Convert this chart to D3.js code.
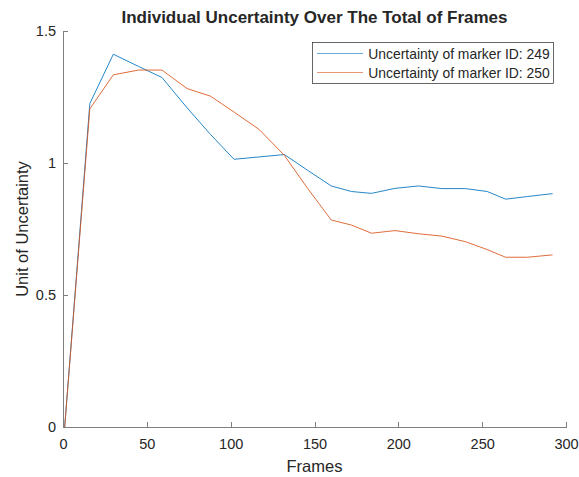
<!DOCTYPE html>
<html>
<head>
<meta charset="utf-8">
<script src="https://cdn.jsdelivr.net/npm/d3@7/dist/d3.min.js"></script>
<style>
  body { margin: 0; background: #fff; }
  text { font-family: "Liberation Sans", Arial, sans-serif; fill: #262626; }
</style>
</head>
<body>
<div id="chart"></div>
<script>
// Data
var frames = [1, 16, 30, 45, 59, 74, 88, 102, 117, 132, 146, 160, 172, 184, 198, 212, 226, 240, 253, 264, 277, 292];
var marker249 = [0, 1.225, 1.412, 1.366, 1.324, 1.209, 1.108, 1.014, 1.023, 1.032, 0.972, 0.913, 0.892, 0.885, 0.904, 0.913, 0.903, 0.903, 0.892, 0.863, 0.873, 0.884];
var marker250 = [0, 1.205, 1.334, 1.352, 1.352, 1.282, 1.253, 1.193, 1.127, 1.029, 0.903, 0.784, 0.765, 0.734, 0.744, 0.732, 0.723, 0.702, 0.672, 0.643, 0.643, 0.652];
var seriesNames = ["Uncertainty of marker ID: 249", "Uncertainty of marker ID: 250"];
var seriesColors = ["#0072BD", "#D95319"];
var xTicks = [0, 50, 100, 150, 200, 250, 300];
var yTicks = [0, 0.5, 1, 1.5];

// Set up chart
var svgWidth = 579;
var svgHeight = 477;
var margin = { top: 31, right: 13, bottom: 50, left: 63 };
var width = svgWidth - margin.left - margin.right;
var height = svgHeight - margin.top - margin.bottom;

var svg = d3.select("#chart")
  .append("svg")
  .attr("width", svgWidth)
  .attr("height", svgHeight);

var chartGroup = svg.append("g")
  .attr("transform", `translate(${margin.left}, ${margin.top})`);

var xScale = d3.scaleLinear().domain([0, 300]).range([0, width]);
var yScale = d3.scaleLinear().domain([0, 1.5]).range([height, 0]);

// Axes, ticks pointing inward
var bottomAxis = d3.axisBottom(xScale).tickValues(xTicks).tickSizeInner(-5).tickSizeOuter(0).tickPadding(12);
var leftAxis = d3.axisLeft(yScale).tickValues(yTicks).tickSizeInner(-5).tickSizeOuter(0).tickPadding(7)
  .tickFormat(d3.format("~g"));

var xAxisG = chartGroup.append("g")
  .attr("transform", `translate(0, ${height})`)
  .call(bottomAxis);
var yAxisG = chartGroup.append("g").call(leftAxis);

[xAxisG, yAxisG].forEach(function(g) {
  g.selectAll("path, line").attr("stroke", "#7f7f7f").attr("shape-rendering", "crispEdges");
  g.selectAll("text").style("font-size", "14.5px").attr("fill", "#262626");
});

// Lines
var seriesData = [marker249, marker250];
var line = d3.line()
  .x(function(d, i) { return xScale(frames[i]); })
  .y(function(d) { return yScale(d); });

seriesData.forEach(function(vals, k) {
  chartGroup.append("path")
    .datum(vals)
    .attr("fill", "none")
    .attr("stroke", seriesColors[k])
    .attr("stroke-opacity", 0.85)
    .attr("stroke-width", 1)
    .attr("d", line);
});

// Title and axis labels
svg.append("text")
  .attr("x", margin.left + width / 2)
  .attr("y", 23)
  .attr("text-anchor", "middle")
  .style("font-size", "17px")
  .style("font-weight", "bold")
  .attr("fill", "#000")
  .text("Individual Uncertainty Over The Total of Frames");

svg.append("text")
  .attr("x", margin.left + width / 2)
  .attr("y", 472)
  .attr("text-anchor", "middle")
  .style("font-size", "16.5px")
  .text("Frames");

svg.append("text")
  .attr("transform", `translate(28, ${margin.top + height / 2}) rotate(-90)`)
  .attr("text-anchor", "middle")
  .style("font-size", "16.5px")
  .text("Unit of Uncertainty");

// Legend
var legend = svg.append("g").attr("transform", "translate(312.5, 42.5)");
legend.append("rect")
  .attr("width", 241)
  .attr("height", 41)
  .attr("fill", "#fff")
  .attr("stroke", "#262626")
  .attr("stroke-width", 0.7);

seriesNames.forEach(function(name, k) {
  var yy = 11 + k * 19;
  legend.append("line")
    .attr("x1", 4.5).attr("x2", 50.5)
    .attr("y1", yy).attr("y2", yy)
    .attr("stroke", seriesColors[k])
    .attr("stroke-opacity", 0.6)
    .attr("stroke-width", 1);
  legend.append("text")
    .attr("x", 55.8)
    .attr("y", yy + 5)
    .style("font-size", "13.9px")
    .text(name);
});
</script>
</body>
</html>
